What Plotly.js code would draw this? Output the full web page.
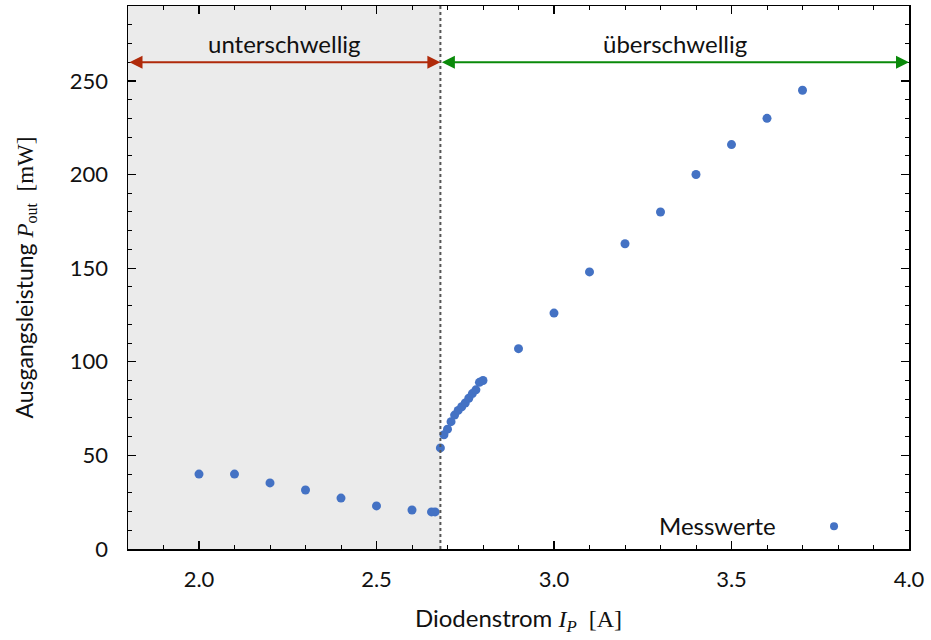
<!DOCTYPE html>
<html><head><meta charset="utf-8">
<script src="https://cdn.plot.ly/plotly-3.0.1.min.js"></script>
<style>html,body{margin:0;padding:0;background:#fff}#plot{width:931px;height:640px}</style>
</head><body><div id="plot"></div>
<script>
const current = [2.0, 2.1, 2.2, 2.3, 2.4, 2.5, 2.6, 2.655, 2.665, 2.68, 2.69, 2.70, 2.71, 2.72, 2.73, 2.74, 2.75, 2.76, 2.77, 2.78, 2.79, 2.80, 2.9, 3.0, 3.1, 3.2, 3.3, 3.4, 3.5, 3.6, 3.7];
const power = [40, 40, 35.3, 31.5, 27.2, 23, 20.8, 19.8, 19.8, 54, 61, 64, 68, 71.5, 74, 76, 78, 80.5, 83, 85, 89, 90, 107, 126, 148, 163, 180, 200, 216, 230, 245];
const threshold = 2.68;
const xRange = [1.8, 4.0];
const yRange = [0, 290];
const arrowY = 260;
const labelY = 270;
const regionLabels = ["unterschwellig", "überschwellig"];
const legendLabel = "Messwerte";
const xTicks = [2.0, 2.5, 3.0, 3.5, 4.0];
const xTickText = ["2.0", "2.5", "3.0", "3.5", "4.0"];

const SANS = "Lato, 'DejaVu Sans', sans-serif";
const SERIF = "'Liberation Serif', 'DejaVu Serif', serif";
const blue = "#4472c4";
const red = "#b02a0a";
const green = "#0a8a0a";

const trace = {
  x: current, y: power, type: "scatter", mode: "markers",
  marker: {color: blue, size: 9}, name: legendLabel, showlegend: false
};

const axisCommon = {
  showgrid: false, zeroline: false, showline: true, linecolor: "#000", linewidth: 1.5,
  mirror: "allticks", ticks: "inside", ticklen: 8, tickwidth: 1.2, tickcolor: "#000",
  tickfont: {family: SANS, size: 22, color: "#111"}
};

const layout = {
  width: 931, height: 640,
  margin: {l: 128, r: 22, t: 6, b: 91},
  paper_bgcolor: "#fff", plot_bgcolor: "#fff",
  xaxis: Object.assign({}, axisCommon, {
    range: xRange, tickvals: xTicks, ticktext: xTickText, ticklabelstandoff: 10,
    minor: {dtick: 0.1, tick0: 0, ticks: "inside", ticklen: 4, tickcolor: "#000", tickwidth: 1},
    title: {text: "Diodenstrom <span style=\"font-family:" + SERIF + "\"><i>I</i><sub><i>P</i></sub>  [A]</span>",
            font: {family: SANS, size: 24, color: "#111"}, standoff: 19}
  }),
  yaxis: Object.assign({}, axisCommon, {
    range: yRange, dtick: 50, tick0: 0, ticklabelstandoff: 14,
    minor: {dtick: 10, ticks: "inside", ticklen: 4, tickcolor: "#000", tickwidth: 1},
    title: {text: "Ausgangsleistung <span style=\"font-family:" + SERIF + "\"><i>P</i><sub>out</sub>  [mW]</span>",
            font: {family: SANS, size: 23, color: "#111"}, standoff: 30}
  }),
  shapes: [
    {type: "rect", xref: "x", yref: "paper", x0: xRange[0], x1: threshold, y0: 0, y1: 1,
     fillcolor: "#ebebeb", line: {width: 0}, layer: "below"},
    {type: "line", xref: "x", yref: "paper", x0: threshold, x1: threshold, y0: 0, y1: 1,
     line: {color: "#555", width: 2, dash: "dot"}},
    {type: "circle", xref: "paper", yref: "paper", xsizemode: "pixel", ysizemode: "pixel",
     xanchor: 0.904, yanchor: 0.042, x0: -4, x1: 4, y0: -4, y1: 4,
     fillcolor: blue, line: {width: 0}}
  ],
  annotations: [
    {x: threshold, y: arrowY, ax: xRange[0], ay: arrowY, xref: "x", yref: "y", axref: "x", ayref: "y",
     text: "", showarrow: true, arrowhead: 2, startarrowhead: 2, arrowside: "end+start",
     arrowsize: 1.3, startarrowsize: 1.3, arrowwidth: 2, arrowcolor: red},
    {x: xRange[1], y: arrowY, ax: threshold, ay: arrowY, xref: "x", yref: "y", axref: "x", ayref: "y",
     text: "", showarrow: true, arrowhead: 2, startarrowhead: 2, arrowside: "end+start",
     arrowsize: 1.3, startarrowsize: 1.3, arrowwidth: 2, arrowcolor: green},
    {x: (xRange[0] + threshold) / 2, y: labelY, xref: "x", yref: "y", text: regionLabels[0],
     showarrow: false, font: {family: SANS, size: 24, color: "#111"}},
    {x: (xRange[1] + threshold) / 2, y: labelY, xref: "x", yref: "y", text: regionLabels[1],
     showarrow: false, font: {family: SANS, size: 24, color: "#111"}},
    {x: 0.832, y: 0.044, xref: "paper", yref: "paper", xanchor: "right", yanchor: "middle",
     text: legendLabel, showarrow: false, font: {family: SANS, size: 24, color: "#111"}}
  ]
};

Plotly.newPlot("plot", [trace], layout, {displayModeBar: false, staticPlot: true});
</script>
</body></html>
